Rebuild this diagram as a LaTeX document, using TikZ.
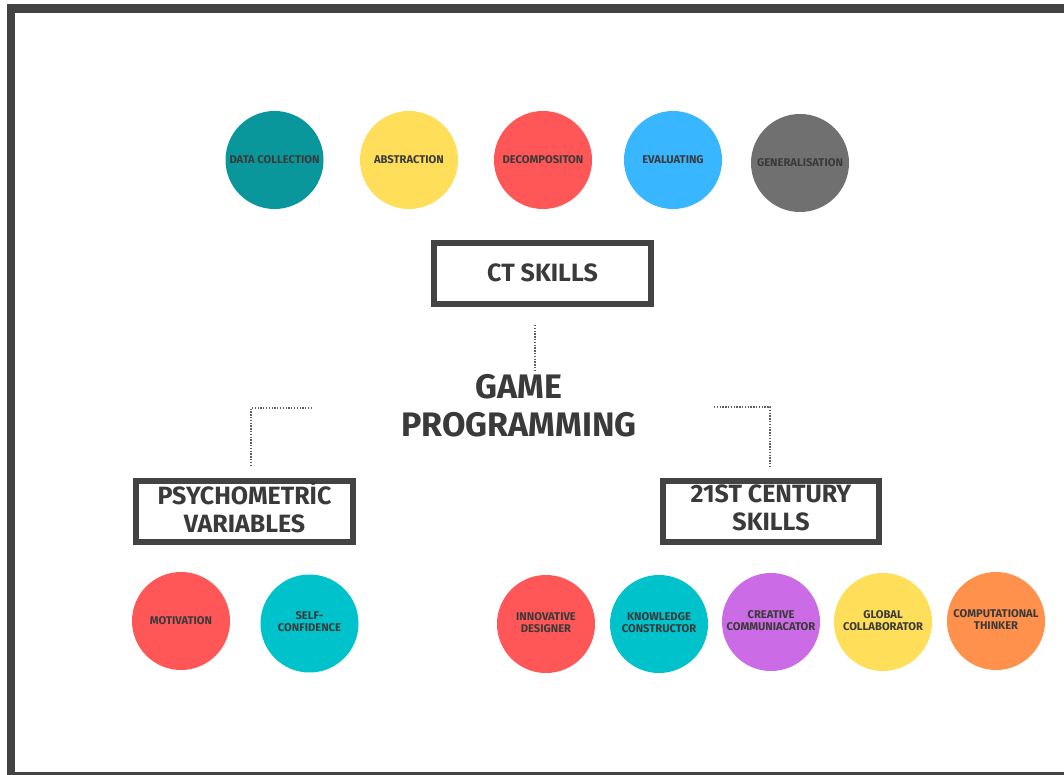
\documentclass[tikz,border=0pt]{standalone}
\usepackage{fontspec}
\setmainfont{Fira Sans}
\definecolor{frame}{HTML}{434343}
\definecolor{txt}{HTML}{3A3A3A}
\definecolor{cteal}{HTML}{0A979B}
\definecolor{cyellow}{HTML}{FFDE59}
\definecolor{cred}{HTML}{FF5757}
\definecolor{cblue}{HTML}{38B6FF}
\definecolor{cgray}{HTML}{707070}
\definecolor{ccyan}{HTML}{00C2CB}
\definecolor{cpurple}{HTML}{CB6CE6}
\definecolor{corange}{HTML}{FF914D}
\newcommand{\boxtext}[1]{\raisebox{2.5pt}{\begin{tabular}{@{}c@{}}#1\end{tabular}}}
\newcommand{\twoline}[1]{\raisebox{2pt}{\begin{tabular}{@{}c@{}}#1\end{tabular}}}
\tikzset{
  bubble/.style={circle, fill=#1, minimum size=98pt, inner sep=0pt, text=txt,
    font=\fontsize{11.2}{11.8}\selectfont\bfseries, align=center},
  skillbox/.style={draw=frame, line width=6pt, rectangle, minimum width=217pt,
    minimum height=61pt, inner sep=0pt, text=txt,
    font=\fontsize{25}{28}\selectfont\bfseries},
  conn/.style={draw=frame!85, line width=1.4pt, dash pattern=on 1.3pt off 1.5pt},
}
\begin{document}
\begin{tikzpicture}[x=1pt,y=-1pt]
\useasboundingbox (0,0) rectangle (1064,775);
\fill[white] (0,0) rectangle (1064,775);
\draw[frame, line width=8.5pt] (1090,8.75) -- (10.75,8.75) -- (10.75,776) -- (1090,776);

% top row
\node[bubble=cteal] (dc) at (274.5,160) {DATA COLLECTION};
\node[bubble=cyellow] (ab) at (409,160) {ABSTRACTION};
\node[bubble=cred] (de) at (543,160) {DECOMPOSITON};
\node[bubble=cblue] (ev) at (673,160) {EVALUATING};
\node[bubble=cgray] (ge) at (800,163) {GENERALISATION};

% boxes
\node[skillbox] (ct) at (542.5,273.5) {\raisebox{2pt}{CT SKILLS}};
\node[skillbox] (ps) at (244.5,511) {\boxtext{PSYCHOMETRİC\\VARIABLES}};
\node[skillbox, minimum width=216pt] (cs) at (771,511) {\boxtext{21ST CENTURY\\SKILLS}};

% center
\node[text=txt, align=center, font=\fontsize{34}{38}\selectfont\bfseries] (gp) at (519,405.5) {GAME\\PROGRAMMING};

% connectors
\coordinate (v1) at (535,325);
\coordinate (v2) at (535,370);
\coordinate (l1) at (312,408);
\coordinate (l2) at (251,466);
\coordinate (r1) at (714,407);
\coordinate (r2) at (770,467);
\draw[conn] (v1) -- (v2);
\draw[conn] (l1) -| (l2);
\draw[conn] (r1) -| (r2);

% bottom row
\node[bubble=cred] (mo) at (181,621) {MOTIVATION};
\node[bubble=ccyan] (sc) at (309.5,623.5) {\twoline{SELF-\\CONFIDENCE}};
\node[bubble=cred] (id) at (546,624) {\twoline{INNOVATIVE\\DESIGNER}};
\node[bubble=ccyan] (kc) at (659,624) {\twoline{KNOWLEDGE\\CONSTRUCTOR}};
\node[bubble=cpurple] (cc) at (771,622) {\twoline{CREATIVE\\COMMUNIACATOR}};
\node[bubble=cyellow] (gc) at (883,622) {\twoline{GLOBAL\\COLLABORATOR}};
\node[bubble=corange] (th) at (996,621) {\twoline{COMPUTATIONAL\\THINKER}};
\end{tikzpicture}
\end{document}
